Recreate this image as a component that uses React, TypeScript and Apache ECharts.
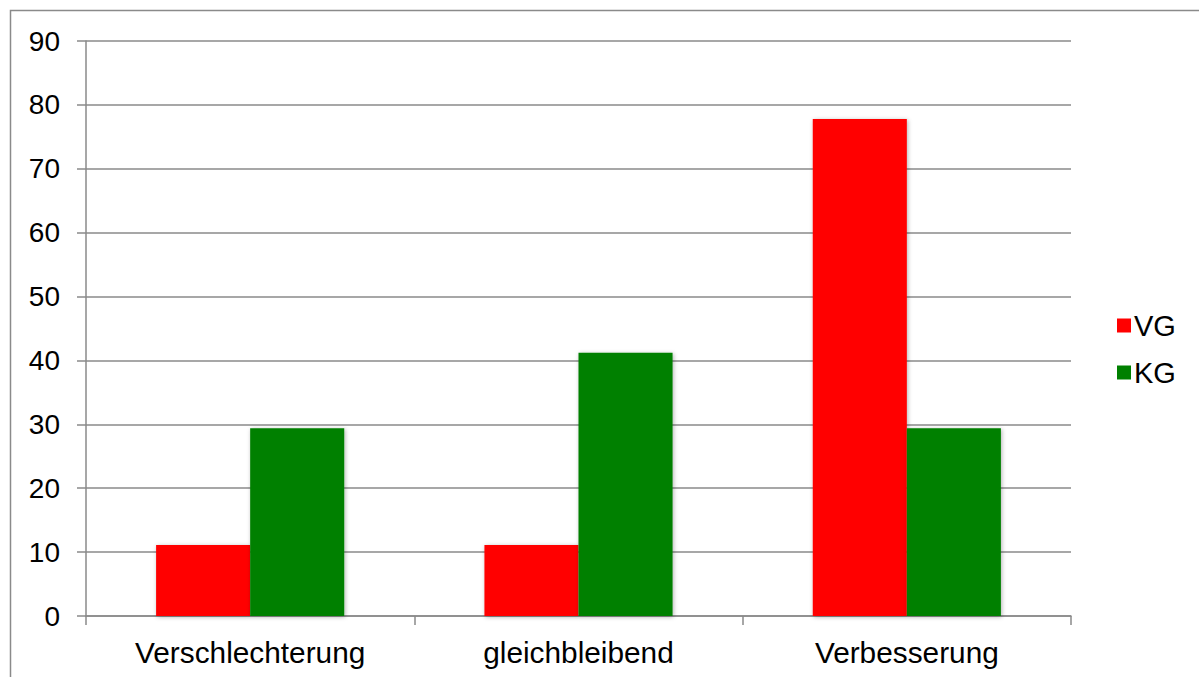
import React, { useEffect, useRef } from "react";
import * as echarts from "echarts";

const categories = ["Verschlechterung", "gleichbleibend", "Verbesserung"];
const vgValues = [11.1, 11.1, 77.8];
const kgValues = [29.4, 41.2, 29.4];
const seriesNames = ["VG", "KG"];

export default function App() {
  const ref = useRef<HTMLDivElement>(null);
  useEffect(() => {
    if (!ref.current) return;
    const chart = echarts.init(ref.current, undefined, { renderer: "svg" });
    const font = "'Liberation Sans', Arial, sans-serif";
    const gray = "#8a8a8a";
    const shadow = {
      shadowBlur: 4,
      shadowColor: "rgba(0,0,0,0.3)",
      shadowOffsetX: 1,
      shadowOffsetY: 1,
    };
    chart.setOption({
      animation: false,
      backgroundColor: "#ffffff",
      textStyle: { fontFamily: font },
      graphic: [
        {
          type: "rect",
          shape: { x: 10.5, y: 10.5, width: 1300, height: 800 },
          style: { fill: "none", stroke: gray, lineWidth: 1.5 },
          silent: true,
        },
      ],
      grid: { left: 86, right: 128, top: 41, bottom: 61, containLabel: false },
      legend: {
        orient: "vertical",
        left: 1112,
        top: 306,
        itemWidth: 14,
        itemHeight: 14,
        itemGap: 18,
        icon: "rect",
        textStyle: { fontSize: 29, color: "#000", fontFamily: font, padding: [0, 0, 0, -2] },
        data: seriesNames,
      },
      xAxis: {
        type: "category",
        data: categories,
        axisLine: { show: true, lineStyle: { color: gray, width: 1.5 } },
        axisTick: { show: true, length: 9, lineStyle: { color: gray, width: 1.5 } },
        axisLabel: { fontSize: 29.8, color: "#000", margin: 21, fontFamily: font },
        splitLine: { show: false },
      },
      yAxis: {
        type: "value",
        min: 0,
        max: 90,
        interval: 10,
        axisLine: { show: true, lineStyle: { color: gray, width: 1.5 } },
        axisTick: { show: true, length: 9, lineStyle: { color: gray, width: 1.5 } },
        axisLabel: { fontSize: 28, color: "#000", margin: 26, fontFamily: font },
        splitLine: { show: true, lineStyle: { color: gray, width: 1.5 } },
      },
      series: [
        {
          name: seriesNames[0],
          type: "bar",
          data: vgValues,
          barGap: "0%",
          barCategoryGap: "42.7%",
          itemStyle: { color: "#ff0000", ...shadow },
        },
        {
          name: seriesNames[1],
          type: "bar",
          data: kgValues,
          barGap: "0%",
          barCategoryGap: "42.7%",
          itemStyle: { color: "#008000", ...shadow },
        },
      ],
    });
    return () => chart.dispose();
  }, []);
  return (
    <div
      ref={ref}
      style={{ position: "fixed", left: 0, top: 0, width: 1199, height: 677 }}
    />
  );
}
